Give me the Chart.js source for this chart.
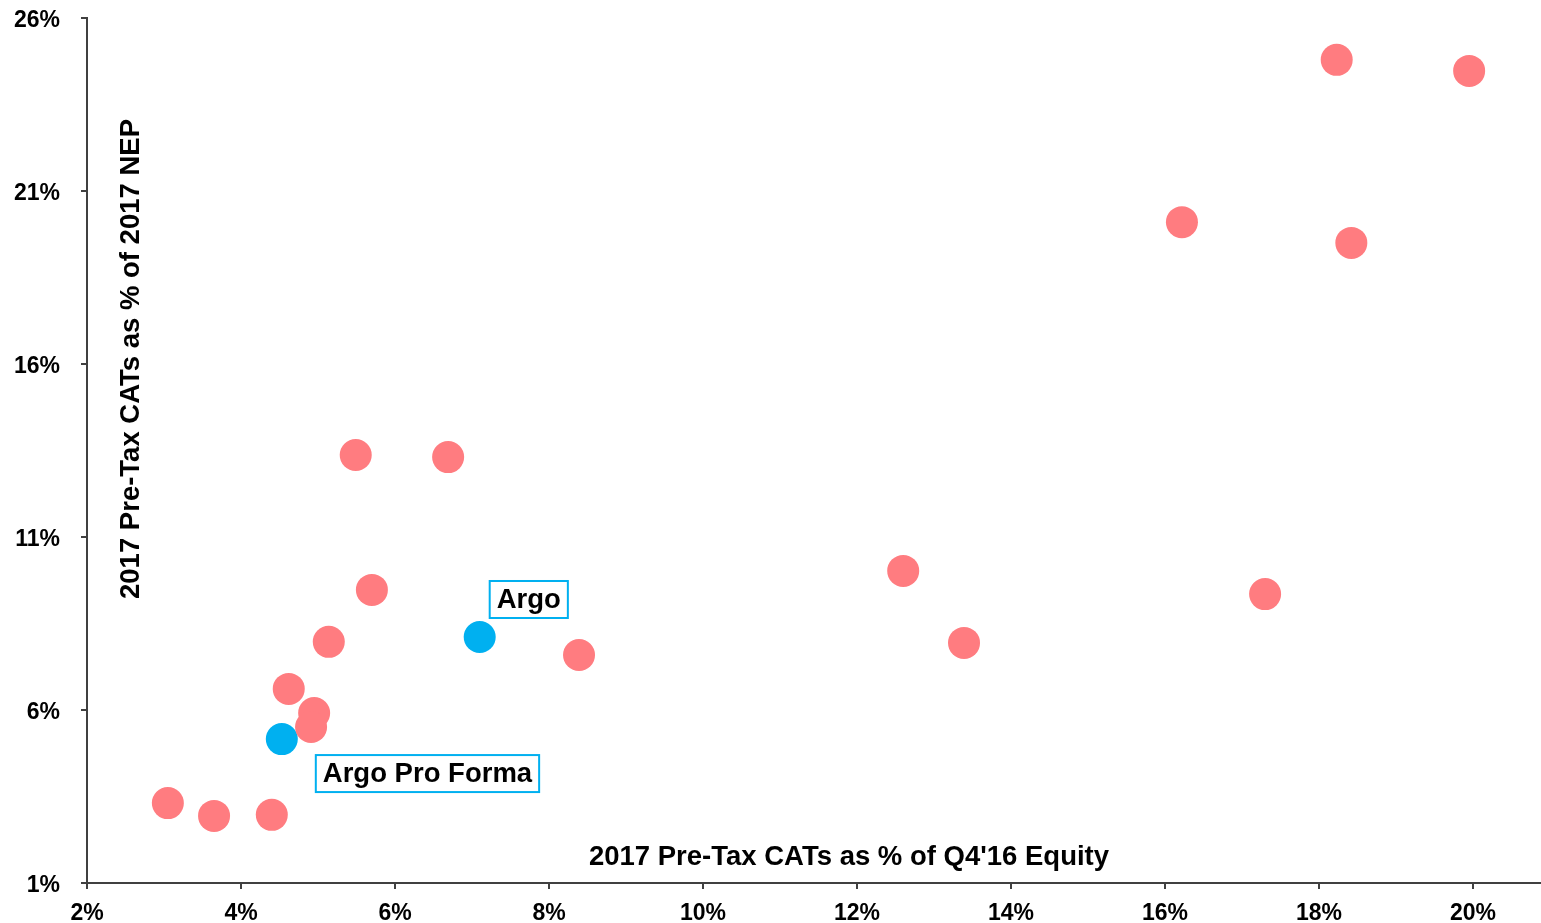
<!DOCTYPE html>
<html>
<head>
<meta charset="utf-8">
<script src="https://cdn.jsdelivr.net/npm/chart.js@4"></script>
<style>
  body { margin: 0; background: #fff; overflow: hidden; }
  #wrap { width: 1566px; height: 923px; }
</style>
</head>
<body>
<div id="wrap"><canvas id="myChart" width="1566" height="923"></canvas></div>
<script>
// peer companies: CATs as % of Q4'16 equity (x) vs % of 2017 NEP (y)
const peerX = [3.05, 3.65, 4.40, 4.62, 4.95, 4.91, 5.14, 5.49, 5.70, 6.69, 8.39, 12.60, 13.39, 16.22, 17.30, 18.23, 18.42, 19.95];
const peerY = [3.31, 2.94, 2.97, 6.61, 5.91, 5.51, 7.97, 13.37, 9.47, 13.31, 7.59, 10.02, 7.94, 20.10, 9.35, 24.79, 19.50, 24.47];

// Argo points
const argoNames = ['Argo', 'Argo Pro Forma'];
const argoX = [7.10, 4.53];
const argoY = [8.11, 5.16];

const xTicks = [2, 4, 6, 8, 10, 12, 14, 16, 18, 20];
const yTicks = [1, 6, 11, 16, 21, 26];

const xTitle = "2017 Pre-Tax CATs as % of Q4'16 Equity";
const yTitle = '2017 Pre-Tax CATs as % of 2017 NEP';

const FONT = '"Liberation Sans", Arial, sans-serif';
const axisColor = '#404040';

// label box offsets from the point (px)
const boxOffsets = [{dx: 10, dy: -56}, {dx: 34, dy: 16}];

const extras = {
  id: 'extras',
  afterDatasetsDraw(chart) {
    const c = chart.ctx;
    const xs = chart.scales.x, ys = chart.scales.y;
    c.save();
    // axis titles sit inside the plot
    c.fillStyle = '#000';
    c.font = 'bold 27.5px ' + FONT;
    c.textAlign = 'center';
    c.textBaseline = 'middle';
    c.fillText(xTitle, 849, 857);
    c.save();
    c.translate(131, 359);
    c.rotate(-Math.PI / 2);
    c.fillText(yTitle, 0, 0);
    c.restore();

    // boxed labels for Argo points
    c.font = 'bold 27.5px ' + FONT;
    argoNames.forEach((name, i) => {
      const px = xs.getPixelForValue(argoX[i]);
      const py = ys.getPixelForValue(argoY[i]);
      const w = c.measureText(name).width + 14;
      const h = 37;
      const bx = px + boxOffsets[i].dx, by = py + boxOffsets[i].dy;
      c.fillStyle = '#fff';
      c.fillRect(bx, by, w, h);
      c.strokeStyle = '#00B0F0';
      c.lineWidth = 2;
      c.strokeRect(bx, by, w, h);
      c.fillStyle = '#000';
      c.textAlign = 'left';
      c.fillText(name, bx + 7, by + h / 2 + 1);
    });
    c.restore();
  }
};

function fixScale(s) {
  s.paddingTop = 0; s.paddingBottom = 0; s.paddingLeft = 0; s.paddingRight = 0;
}

const ctx = document.getElementById('myChart').getContext('2d');
const chart = new Chart(ctx, {
  type: 'scatter',
  data: {
    datasets: [{
      label: 'Peers',
      data: peerX.map((x, i) => ({x: x, y: peerY[i]})),
      backgroundColor: '#FF7C80',
      borderColor: '#FF7C80',
      pointRadius: 16,
      borderWidth: 0
    }, {
      label: 'Argo',
      data: argoX.map((x, i) => ({x: x, y: argoY[i]})),
      backgroundColor: '#00B0F0',
      borderColor: '#00B0F0',
      pointRadius: 16,
      borderWidth: 0
    }]
  },
  options: {
    responsive: false,
    animation: false,
    devicePixelRatio: 1,
    // chart area: left 87, top 18, right edge (21%) lands just past the window
    layout: { padding: { top: 18, right: 1, left: 0, bottom: 0 } },
    plugins: { legend: { display: false }, tooltip: { enabled: false } },
    scales: {
      x: {
        type: 'linear',
        min: 2, max: 21,
        afterBuildTicks: s => { s.ticks = xTicks.map(v => ({value: v})); },
        afterFit: s => { s.height = 40; fixScale(s); },
        grid: { drawOnChartArea: false, drawTicks: true, tickLength: 6, color: axisColor, lineWidth: 2 },
        border: { display: true, color: axisColor, width: 2 },
        ticks: {
          color: '#000', padding: 11, maxRotation: 0, autoSkip: false,
          font: { family: FONT, size: 23, weight: 'bold' },
          callback: v => v + '%'
        }
      },
      y: {
        type: 'linear',
        min: 1, max: 26,
        afterBuildTicks: s => { s.ticks = yTicks.map(v => ({value: v})); },
        afterFit: s => { s.width = 87; fixScale(s); },
        grid: { drawOnChartArea: false, drawTicks: true, tickLength: 6, color: axisColor, lineWidth: 2 },
        border: { display: true, color: axisColor, width: 2 },
        ticks: {
          color: '#000', padding: 21, autoSkip: false, labelOffset: 3,
          font: { family: FONT, size: 23, weight: 'bold' },
          callback: v => v + '%'
        }
      }
    }
  },
  plugins: [extras]
});
</script>
</body>
</html>
